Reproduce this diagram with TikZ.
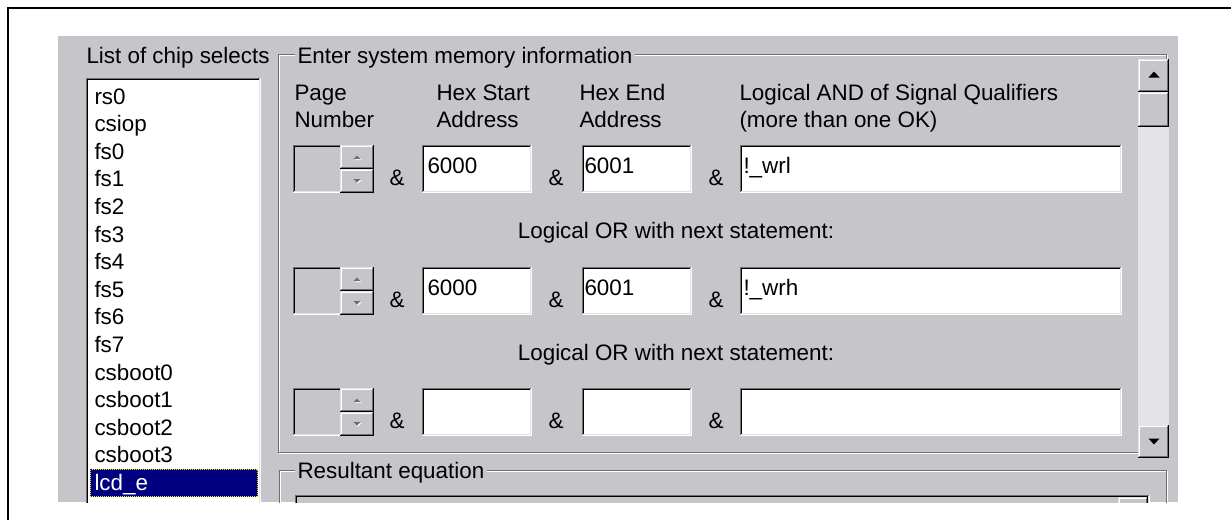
\documentclass[tikz,border=0pt]{standalone}
\usepackage{fontspec}
\setmainfont{Liberation Sans}
\definecolor{bg}{RGB}{198,197,201}
\definecolor{dkg}{RGB}{110,110,112}
\definecolor{ltg}{RGB}{226,225,229}
\definecolor{trk}{RGB}{228,228,231}
\definecolor{navy}{RGB}{0,0,128}
\tikzset{
  ui/.style={font=\fontsize{22.4}{27}\selectfont, inner sep=0pt},
  lbl/.style={ui, anchor=base west},
  amp/.style={ui, anchor=base},
  grptitle/.style={lbl, fill=bg, inner xsep=3pt},
}
% sunken 3D box: x1 y1 x2 y2 fill
\newcommand{\uisunken}[5]{%
  \fill[#5] (#1,#2) rectangle (#3,#4);
  \draw[dkg] (#1+0.5,#4) -- (#1+0.5,#2+0.5) -- (#3,#2+0.5);
  \draw[black, line width=1.4pt] (#1+1.7,#4-1) -- (#1+1.7,#2+1.7) -- (#3-1,#2+1.7);
  \draw[white] (#1,#4-0.5) -- (#3-0.5,#4-0.5) -- (#3-0.5,#2);
  \draw[ltg] (#1+1,#4-1.5) -- (#3-1.5,#4-1.5) -- (#3-1.5,#2+1);
}
% raised 3D button: x1 y1 x2 y2
\newcommand{\uiraised}[4]{%
  \fill[bg] (#1,#2) rectangle (#3,#4);
  \draw[ltg] (#1+0.5,#4) -- (#1+0.5,#2+0.5) -- (#3,#2+0.5);
  \draw[white] (#1+1.5,#4-1) -- (#1+1.5,#2+1.5) -- (#3-1,#2+1.5);
  \draw[black, line width=1.4pt] (#1,#4-0.7) -- (#3-0.7,#4-0.7) -- (#3-0.7,#2);
  \draw[dkg] (#1+1,#4-1.8) -- (#3-1.8,#4-1.8) -- (#3-1.8,#2+1);
}
% one statement row: id, top, start, end, qualifier
\newcommand{\uirow}[5]{%
  \uisunken{293}{#2}{342}{#2+48}{bg}
  \uiraised{340}{#2}{374}{#2+24}
  \uiraised{340}{#2+24}{374}{#2+48}
  \fill[white] (354.5,#2+15) -- (361.5,#2+15) -- (358,#2+11.5) -- cycle;
  \fill[dkg] (353.5,#2+14) -- (360.5,#2+14) -- (357,#2+10.5) -- cycle;
  \fill[white] (354.5,#2+35) -- (361.5,#2+35) -- (358,#2+38.5) -- cycle;
  \fill[dkg] (353.5,#2+34) -- (360.5,#2+34) -- (357,#2+37.5) -- cycle;
  \node[amp] (ampa#1) at (397,#2+40) {\&};
  \uisunken{422}{#2}{532}{#2+48}{white}
  \node[lbl] (start#1) at (427,#2+28) {#3};
  \node[amp] (ampb#1) at (556,#2+40) {\&};
  \uisunken{582}{#2}{692}{#2+48}{white}
  \node[lbl] (end#1) at (584,#2+28) {#4};
  \node[amp] (ampc#1) at (716,#2+40) {\&};
  \uisunken{740}{#2}{1122}{#2+48}{white}
  \node[lbl] (qual#1) at (743,#2+28) {#5};
}
\begin{document}
\begin{tikzpicture}[x=1pt,y=-1pt,line width=1pt]
\useasboundingbox (0,0) rectangle (1231,520);
\fill[white] (0,0) rectangle (1231,520);
% figure frame
\draw[line width=2.5pt] (8,520) -- (8,8) -- (1231,8);
\begin{scope}
\clip (58,36) rectangle (1178,502);
\fill[bg] (58,36) rectangle (1178,502);
% list of chip selects
\node[lbl] (listtitle) at (86,63) {List of chip selects};
\uisunken{86}{78}{261}{540}{white}
\foreach \t [count=\i from 0] in {rs0,csiop,fs0,fs1,fs2,fs3,fs4,fs5,fs6,fs7,csboot0,csboot1,csboot2,csboot3}
  \node[lbl] (item\i) at (94,104+27.6*\i) {\t};
\fill[navy] (90,469) rectangle (258,497);
\draw[yellow, dash pattern=on 1pt off 1pt] (90.5,469.5) rectangle (257.5,496.5);
\node[lbl, text=white] (item14) at (94,490.4) {lcd\_e};
% group: enter system memory information
\draw[white] (279.5,55.5) rectangle (1167.5,453.5);
\draw[dkg] (278.5,54.5) rectangle (1166.5,452.5);
\node[grptitle] (grp) at (294,63) {Enter system memory information};
% headers
\node[lbl] (hpage1) at (294,100) {Page};
\node[lbl] (hpage2) at (294,127) {Number};
\node[lbl] (hstart1) at (436,100) {Hex Start};
\node[lbl] (hstart2) at (436,127) {Address};
\node[lbl] (hend1) at (579,100) {Hex End};
\node[lbl] (hend2) at (579,127) {Address};
\node[lbl] (hq1) at (739,100) {Logical AND of Signal Qualifiers};
\node[lbl] (hq2) at (739,127) {(more than one OK)};
% rows
\uirow{1}{145}{6000}{6001}{!\_wrl}
\node[amp] (or1) at (676,238.5) {Logical OR with next statement:};
\uirow{2}{267}{6000}{6001}{!\_wrh}
\node[amp] (or2) at (676,360) {Logical OR with next statement:};
\uirow{3}{388}{}{}{}
% scrollbar
\fill[trk] (1138,127) rectangle (1169,425);
\uiraised{1138}{59}{1169}{92}
\uiraised{1138}{92}{1169}{127}
\uiraised{1138}{425}{1169}{458}
\fill[black] (1148.5,77.5) -- (1159.5,77.5) -- (1154,71.5) -- cycle;
\fill[black] (1148.5,438.5) -- (1159.5,438.5) -- (1154,444.5) -- cycle;
% group: resultant equation
\draw[white] (280.5,471.5) rectangle (1167.5,540);
\draw[dkg] (279.5,470.5) rectangle (1166.5,540);
\node[grptitle] (res) at (294,478) {Resultant equation};
\uisunken{295}{495}{1150}{540}{bg}
\uiraised{1118}{497}{1148}{540}
\end{scope}
\end{tikzpicture}
\end{document}
